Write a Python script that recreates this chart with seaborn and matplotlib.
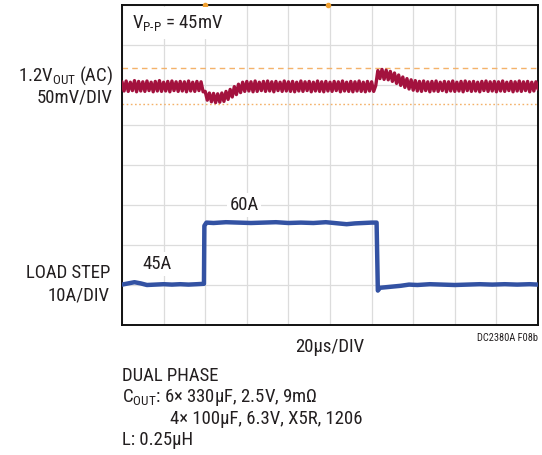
import numpy as np
import pandas as pd
import matplotlib
matplotlib.use("Agg")
import matplotlib.pyplot as plt
from matplotlib import font_manager
import seaborn as sns

# ---------------- data (in scope divisions) ----------------
# output voltage trace (AC, 50mV/DIV), sampled every 0.05 div
red_t = np.round(np.arange(201) * 0.05, 2)
red_y = [
    6.08, 5.85, 6.10, 5.84, 6.07, 5.86, 6.11, 5.83, 6.09, 5.85,
    6.08, 5.84, 6.10, 5.86, 6.07, 5.83, 6.09, 5.85, 6.11, 5.84,
    6.07, 5.85, 6.09, 5.83, 6.10, 5.86, 6.08, 5.84, 6.09, 5.85,
    6.08, 5.83, 6.10, 5.85, 6.07, 5.84, 6.09, 5.86, 6.08, 5.83,
    5.84, 5.62, 5.80, 5.58, 5.79, 5.56, 5.78, 5.57, 5.80, 5.59,
    5.84, 5.64, 5.89, 5.70, 5.96, 5.76, 6.02, 5.81, 6.07, 5.84,
    6.09, 5.85, 6.08, 5.83, 6.10, 5.84, 6.07, 5.86, 6.09, 5.84,
    6.10, 5.85, 6.08, 5.83, 6.09, 5.86, 6.07, 5.84, 6.10, 5.85,
    6.08, 5.84, 6.09, 5.83, 6.07, 5.85, 6.10, 5.84, 6.08, 5.86,
    6.09, 5.83, 6.07, 5.85, 6.10, 5.84, 6.08, 5.83, 6.09, 5.85,
    6.07, 5.84, 6.09, 5.86, 6.08, 5.83, 6.10, 5.85, 6.07, 5.84,
    6.09, 5.83, 6.08, 5.85, 6.10, 5.84, 6.07, 5.83, 6.09, 5.85,
    6.08, 5.84, 5.99, 6.36, 6.16, 6.39, 6.14, 6.37, 6.13, 6.34,
    6.09, 6.30, 6.04, 6.25, 5.99, 6.20, 5.94, 6.16, 5.90, 6.13,
    5.87, 6.11, 5.85, 6.09, 5.84, 6.10, 5.86, 6.08, 5.83, 6.09,
    5.85, 6.10, 5.84, 6.07, 5.86, 6.09, 5.83, 6.08, 5.85, 6.10,
    5.84, 6.07, 5.85, 6.09, 5.83, 6.10, 5.86, 6.08, 5.84, 6.09,
    5.85, 6.07, 5.83, 6.09, 5.86, 6.10, 5.84, 6.08, 5.85, 6.09,
    5.83, 6.08, 5.85, 6.10, 5.84, 6.07, 5.86, 6.09, 5.83, 6.08,
    5.85, 6.10, 5.84, 6.08, 5.86, 6.09, 5.83, 6.07, 5.85, 6.08,
    5.90,
]

# load step trace (10A/DIV)
blue_t = [0.0, 0.15, 0.3, 0.45, 0.6, 0.8, 1.0, 1.2, 1.4, 1.6, 1.8, 1.97,
          1.98, 2.03, 2.2, 2.5, 2.8, 3.1, 3.4, 3.7, 4.0, 4.3, 4.6, 4.9,
          5.2, 5.4, 5.6, 5.8, 6.0, 6.12,
          6.15, 6.2, 6.3, 6.5, 6.7, 6.9, 7.1, 7.4, 7.7, 8.0, 8.3, 8.6,
          8.9, 9.2, 9.5, 9.8, 10.0]
blue_y = [1.01, 1.04, 1.07, 1.04, 1.00, 1.01, 1.02, 1.01, 1.02, 1.01, 1.02, 1.03,
          2.48, 2.56, 2.55, 2.57, 2.56, 2.55, 2.56, 2.57, 2.55, 2.56, 2.55, 2.57,
          2.54, 2.52, 2.54, 2.55, 2.56, 2.56,
          0.86, 0.93, 0.94, 0.96, 0.98, 1.01, 1.00, 1.02, 1.01, 1.00, 1.01, 1.02,
          1.01, 1.02, 1.01, 1.02, 1.01]

vpp_ref_hi = 6.43
vpp_ref_lo = 5.53
cursor_t = [2.0, 4.95]

# ---------------- style ----------------
sns.set_theme(style="white")
names = {f.name for f in font_manager.fontManager.ttflist}
fam = [f for f in ["Liberation Sans Narrow", "Roboto Condensed", "Liberation Sans", "DejaVu Sans"] if f in names]
plt.rcParams["font.family"] = fam
plt.rcParams["mathtext.fontset"] = "custom"
plt.rcParams["mathtext.rm"] = fam[0]
plt.rcParams["mathtext.it"] = fam[0]
plt.rcParams["mathtext.bf"] = fam[0]

TXT = "#231f20"
W, H = 542, 455
fig = plt.figure(figsize=(W / 100, H / 100), dpi=100)
ax = fig.add_axes([122 / W, 1 - 325 / H, 416 / W, 320 / H])

ax.set_xlim(0, 10)
ax.set_ylim(0, 8)
ax.set_xticks(range(11))
ax.set_yticks(range(9))
ax.set_xticklabels([])
ax.set_yticklabels([])
ax.tick_params(length=0)
ax.grid(True, color="#dcdcdc", lw=0.9)
ax.set_axisbelow(True)
for s in ax.spines.values():
    s.set_visible(True)
    s.set_color("#111111")
    s.set_linewidth(1.4)

ax.axhline(vpp_ref_hi, color="#f4b26a", ls=(0, (4, 3)), lw=1.0, zorder=1.5)
ax.axhline(vpp_ref_lo, color="#f4b26a", ls=(0, (1.2, 1.8)), lw=1.0, zorder=1.5)
ax.plot(cursor_t, [8, 8], ls="none", marker="o", ms=3, color="#f0a030",
        clip_on=False, zorder=5)

sns.lineplot(x=red_t, y=red_y, ax=ax, color="#a3123e", lw=2.4,
             estimator=None, sort=False, legend=False, zorder=3)
sns.lineplot(x=blue_t, y=blue_y, ax=ax, color="#3352a3", lw=3.2,
             estimator=None, sort=False, legend=False, zorder=3)
ax.set_xlabel("")
ax.set_ylabel("")

# ---------------- text ----------------
FS = 13.5
box = dict(boxstyle="square,pad=0.15", fc="white", ec="none")

def ftxt(x, y, s, **kw):
    kw.setdefault("fontsize", FS)
    kw.setdefault("color", TXT)
    kw.setdefault("va", "center")
    return fig.text(x / W, 1 - y / H, s, **kw)

ftxt(132, 23, r"V$_\mathregular{P\text{-}P}$ = 45mV", ha="left", bbox=dict(boxstyle="square,pad=0.3", fc="white", ec="none"), zorder=10)
ftxt(244, 205, "60A", ha="center", bbox=box, zorder=10)
ftxt(157, 264, "45A", ha="center", bbox=box, zorder=10)

ftxt(113, 76, r"1.2V$_\mathregular{OUT}$ (AC)", ha="right")
ftxt(113, 98, "50mV/DIV", ha="right")
ftxt(110, 273, "LOAD STEP", ha="right")
ftxt(110, 295, "10A/DIV", ha="right")

ftxt(330, 347, "20µs/DIV", ha="center")
ftxt(538, 338, "DC2380A F08b", ha="right", fontsize=7.5)

ftxt(122, 376, "DUAL PHASE", ha="left")
ftxt(122, 398, r"C$_\mathregular{OUT}$: 6× 330µF, 2.5V, 9mΩ", ha="left")
ftxt(170, 419, "4× 100µF, 6.3V, X5R, 1206", ha="left")
ftxt(122, 440, "L: 0.25µH", ha="left")

fig.savefig("out.png", dpi=100)
